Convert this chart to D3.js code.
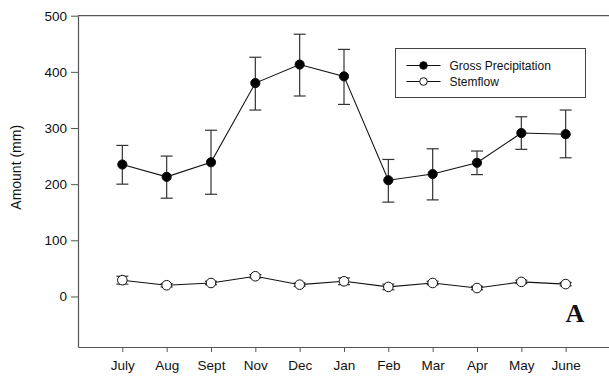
<!DOCTYPE html>
<html>
<head>
<meta charset="utf-8">
<script src="https://cdn.jsdelivr.net/npm/d3@7"></script>
<style>
  body { margin: 0; background: #fff; }
  svg { display: block; font-family: "Liberation Sans", Arial, sans-serif; }
</style>
</head>
<body>
<svg id="chart" width="609" height="376"></svg>
<script>
// month labels along the x axis
var months = ["July", "Aug", "Sept", "Nov", "Dec", "Jan", "Feb", "Mar", "Apr", "May", "June"];

// gross precipitation (mm) with lower / upper error bar ends
var grossMean = [235, 213, 239, 380, 413, 392, 207, 218, 238, 291, 289];
var grossLow  = [200, 175, 182, 332, 357, 342, 168, 172, 217, 262, 247];
var grossHigh = [269, 250, 296, 426, 467, 440, 244, 263, 259, 320, 332];

// stemflow (mm)
var stemMean = [29, 20, 24, 36, 21, 27, 17, 24, 15, 26, 22];
var stemLow  = [22, 17, 21, 33, 18, 21, 12, 21, 12, 23, 19];
var stemHigh = [36, 23, 27, 39, 24, 33, 22, 27, 18, 29, 25];

var yTicks = [0, 100, 200, 300, 400, 500];

var svg = d3.select("#chart");
// plot edges (window.top is reserved, so use other names)
var plotLeft = 78, plotRight = 610, plotTop = 15.7, plotBottom = 347;

// x is an index scale, one slot either side of the months
var x = d3.scaleLinear().domain([0, months.length + 1]).range([plotLeft, plotRight]);
var y = d3.scaleLinear().domain([-90, 500]).range([plotBottom, plotTop]);

var axisColor = "#555";

// left axis
var yAxis = svg.append("g")
  .attr("transform", "translate(" + plotLeft + ",0)")
  .call(d3.axisLeft(y).tickValues(yTicks).tickSize(7).tickPadding(4).tickSizeOuter(0));
yAxis.select(".domain").attr("stroke", axisColor).attr("stroke-width", 1.2);
yAxis.selectAll(".tick line").attr("stroke", axisColor);
yAxis.selectAll("text").attr("font-size", 13.5).attr("fill", "#111")
  .attr("font-family", "Liberation Sans, Arial, sans-serif");

// bottom axis
var xAxis = svg.append("g")
  .attr("transform", "translate(0," + plotBottom + ")")
  .call(d3.axisBottom(x).tickValues(d3.range(1, months.length + 1))
    .tickFormat(function (d) { return months[d - 1]; })
    .tickSize(5).tickPadding(8).tickSizeOuter(0));
xAxis.select(".domain").attr("stroke", axisColor).attr("stroke-width", 1.2);
xAxis.selectAll(".tick line").attr("stroke", axisColor);
xAxis.selectAll("text").attr("font-size", 13.5).attr("fill", "#111")
  .attr("font-family", "Liberation Sans, Arial, sans-serif");

// top frame line
svg.append("line")
  .attr("x1", plotLeft).attr("x2", plotRight)
  .attr("y1", y(500)).attr("y2", y(500))
  .attr("stroke", axisColor).attr("stroke-width", 1.2);

// y axis title
svg.append("text")
  .attr("transform", "translate(21," + y(230) + ") rotate(-90)")
  .attr("text-anchor", "middle")
  .attr("font-size", 14)
  .attr("fill", "#111")
  .text("Amount (mm)");

function drawSeries(mean, low, high, fill, r) {
  var g = svg.append("g");
  var line = d3.line()
    .x(function (d, i) { return x(i + 1); })
    .y(function (d) { return y(d); });

  // error bars
  var cap = 6;
  mean.forEach(function (m, i) {
    var cx = x(i + 1);
    g.append("line").attr("x1", cx).attr("x2", cx)
      .attr("y1", y(low[i])).attr("y2", y(high[i]))
      .attr("stroke", "#333").attr("stroke-width", 1.2);
    [low[i], high[i]].forEach(function (v) {
      g.append("line").attr("x1", cx - cap).attr("x2", cx + cap)
        .attr("y1", y(v)).attr("y2", y(v))
        .attr("stroke", "#333").attr("stroke-width", 1.2);
    });
  });

  g.append("path")
    .datum(mean)
    .attr("d", line)
    .attr("fill", "none")
    .attr("stroke", "#111")
    .attr("stroke-width", 1.1);

  g.selectAll("circle")
    .data(mean)
    .enter()
    .append("circle")
    .attr("cx", function (d, i) { return x(i + 1); })
    .attr("cy", function (d) { return y(d); })
    .attr("r", r)
    .attr("fill", fill)
    .attr("stroke", "#111")
    .attr("stroke-width", 1);
}

drawSeries(grossMean, grossLow, grossHigh, "#000", 4.6);
drawSeries(stemMean, stemLow, stemHigh, "#fff", 4.8);

// legend
var lg = svg.append("g").attr("transform", "translate(395.5,48.5)");
lg.append("rect").attr("width", 190).attr("height", 49)
  .attr("fill", "#fff").attr("stroke", "#444").attr("stroke-width", 1);
var legendItems = [
  { name: "Gross Precipitation", fill: "#000" },
  { name: "Stemflow", fill: "#fff" }
];
legendItems.forEach(function (it, i) {
  var ly = 17 + i * 16;
  lg.append("line").attr("x1", 11).attr("x2", 45).attr("y1", ly).attr("y2", ly)
    .attr("stroke", "#111").attr("stroke-width", 1);
  lg.append("circle").attr("cx", 28).attr("cy", ly).attr("r", 3.8)
    .attr("fill", it.fill).attr("stroke", "#111");
  lg.append("text").attr("x", 54).attr("y", ly + 4.5)
    .attr("font-size", 12).attr("fill", "#111").text(it.name);
});

// panel letter
svg.append("text")
  .attr("x", 575).attr("y", 322)
  .attr("text-anchor", "middle")
  .attr("font-family", "Liberation Serif, Times New Roman, serif")
  .attr("font-weight", "bold")
  .attr("font-size", 26)
  .attr("fill", "#111")
  .text("A");
</script>
</body>
</html>
